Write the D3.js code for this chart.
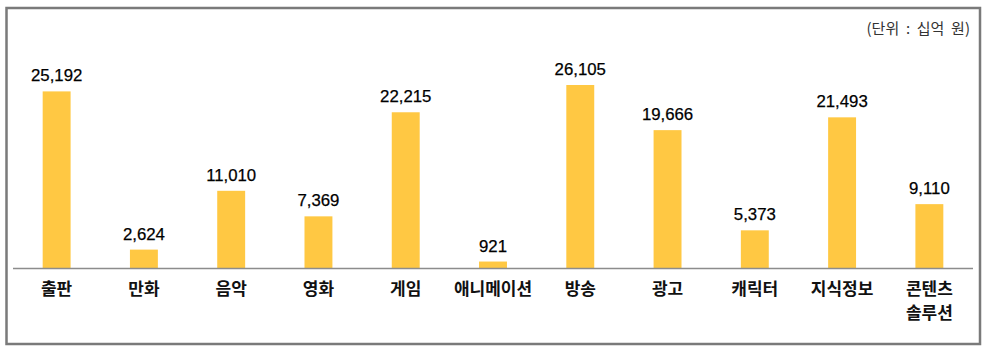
<!DOCTYPE html>
<html><head><meta charset="utf-8">
<script src="https://cdn.jsdelivr.net/npm/d3@7"></script>
<style>html,body{margin:0;padding:0;background:#fff;}svg{display:block;}</style>
</head><body>
<svg id="c" width="992" height="357"></svg>
<script>
const categories = [["출판"],["만화"],["음악"],["영화"],["게임"],["애니메이션"],["방송"],["광고"],["캐릭터"],["지식정보"],["콘텐츠","솔루션"]];
const values = [25192, 2624, 11010, 7369, 22215, 921, 26105, 19666, 5373, 21493, 9110];
const unitLabel = "(단위  :  십억  원)";

const svg = d3.select("#c");
const baseY = 268;
svg.append("rect").attr("x",6.5).attr("y",8).attr("width",973.5).attr("height",336)
  .attr("fill","#fff").attr("stroke","#7a7a7a").attr("stroke-width",2.5);

const keys = categories.map((d,i)=>i);
const x = d3.scaleBand().domain(keys).range([13,973]).paddingInner(0.68).paddingOuter(0.34);
const y = d3.scaleLinear().domain([0,26105]).range([baseY, 85]);

svg.selectAll("rect.bar").data(values).enter().append("rect").attr("class","bar")
  .attr("x",(d,i)=>x(i)).attr("width",x.bandwidth())
  .attr("y",d=>y(d)).attr("height",d=>baseY-y(d)).attr("fill","#FFC843");

svg.selectAll("text.val").data(values).enter().append("text").attr("class","val")
  .attr("x",(d,i)=>x(i)+x.bandwidth()/2).attr("y",d=>y(d)-10)
  .attr("text-anchor","middle").attr("font-family","Liberation Sans, Arial, sans-serif")
  .attr("font-size",16.8).attr("fill","#000").attr("stroke","#000").attr("stroke-width",0.25)
  .text(d=>d3.format(",")(d));

svg.append("line").attr("x1",13).attr("x2",973).attr("y1",baseY+0.5).attr("y2",baseY+0.5)
  .attr("stroke","#8c8c8c").attr("stroke-width",1.5);

const g = svg.selectAll("text.cat").data(categories).enter().append("text").attr("class","cat")
  .attr("x",(d,i)=>x(i)+x.bandwidth()/2).attr("y",295)
  .attr("text-anchor","middle").attr("font-family","Noto Sans CJK KR, sans-serif")
  .attr("font-weight","bold").attr("font-size",17).attr("fill","#111");
g.each(function(d,i){
  const t = d3.select(this);
  d.forEach((line,j)=>{
    t.append("tspan").attr("x",x(i)+x.bandwidth()/2).attr("dy", j===0?0:24).text(line);
  });
});

svg.append("text").attr("x",970).attr("y",34).attr("text-anchor","end")
  .attr("font-family","Noto Sans CJK KR, sans-serif").attr("font-size",15).attr("fill","#333")
  .style("white-space","pre").text(unitLabel);
</script>
</body></html>
